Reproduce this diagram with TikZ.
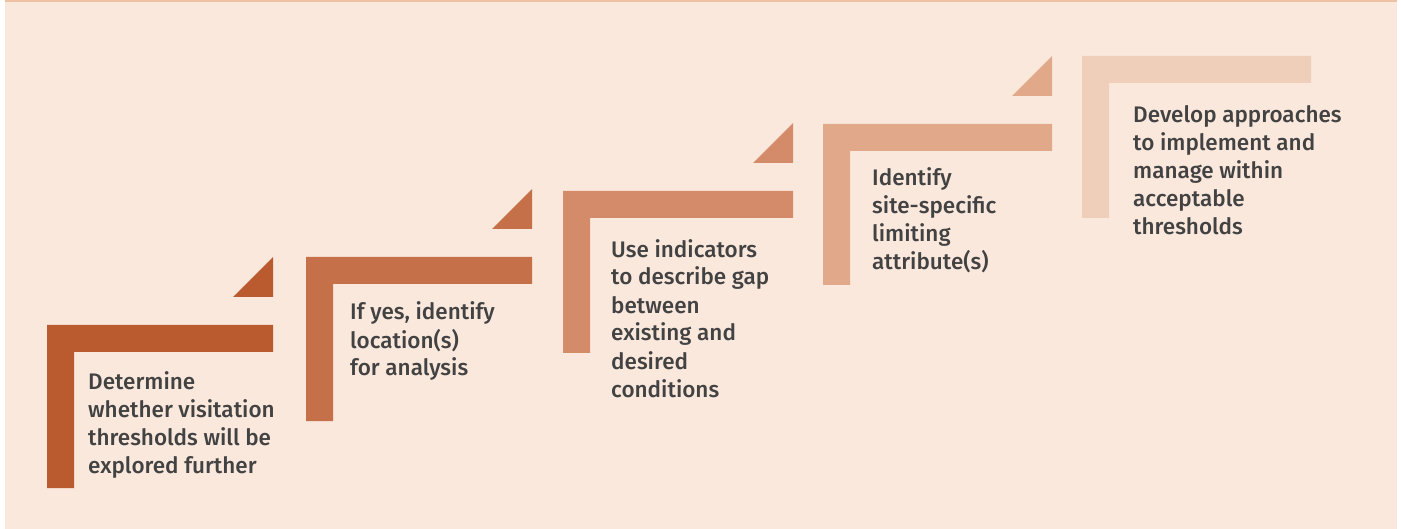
\documentclass[tikz,border=0pt]{standalone}
\usepackage{fontspec}
\setmainfont{Fira Sans}[UprightFont={* Medium}, BoldFont={* SemiBold}]
\usepackage{xcolor}
\definecolor{panelbg}{HTML}{FAE8DD}
\definecolor{panelrule}{HTML}{EFC2A6}
\definecolor{stepA}{HTML}{B95A2F}
\definecolor{stepB}{HTML}{C57049}
\definecolor{stepC}{HTML}{D38B69}
\definecolor{stepD}{HTML}{E1A98A}
\definecolor{stepE}{HTML}{EFCFBA}
\definecolor{steptextgray}{HTML}{424242}

\begin{document}
\begin{tikzpicture}[
    x=1pt, y=-1pt,
    steptext/.style={anchor=base west, align=left, inner sep=0pt, text=steptextgray,
        font=\fontsize{22.5}{28}\selectfont}
]
\useasboundingbox (0,0) rectangle (1401,529);
\fill[panelbg] (5,0) rectangle (1397,529);
\fill[panelrule] (5,0) rectangle (1397,2);
% steps: x, top, right end, bottom, colour
\foreach \x/\t/\r/\b/\c in {47/325/273/488/stepA, 306/257/532/421/stepB,
    563/191/793/353/stepC, 823/124/1052/285/stepD, 1082/56/1311/218/stepE}{
    \fill[\c] (\x,\b) -- (\x,\t) -- (\r,\t) -- (\r,\t+27) -- (\x+27,\t+27) -- (\x+27,\b) -- cycle;
}
% small triangles pointing up to the next step
\foreach \r/\t/\c in {273/325/stepA, 532/257/stepB, 793/191/stepC, 1052/124/stepD}{
    \fill[\c] (\r-40,\t-28) -- (\r,\t-68) -- (\r,\t-28) -- cycle;
}
% text nodes sit on the baseline of their last line
\node[steptext] (determine) at (88,473) {Determine\\whether visitation\\thresholds will be\\explored further};
\node[steptext] (location) at (350,376) {If yes, identify\\location(s)\\for analysis};
\node[steptext] (indicators) at (611,397) {Use indicators\\to describe gap\\between\\existing and\\desired\\conditions};
\node[steptext] (attributes) at (872,270) {Identify\\site-specific\\limiting\\attribute(s)};
\node[steptext] (approaches) at (1133,235) {Develop approaches\\to implement and\\manage within\\acceptable\\thresholds};
\end{tikzpicture}
\end{document}
